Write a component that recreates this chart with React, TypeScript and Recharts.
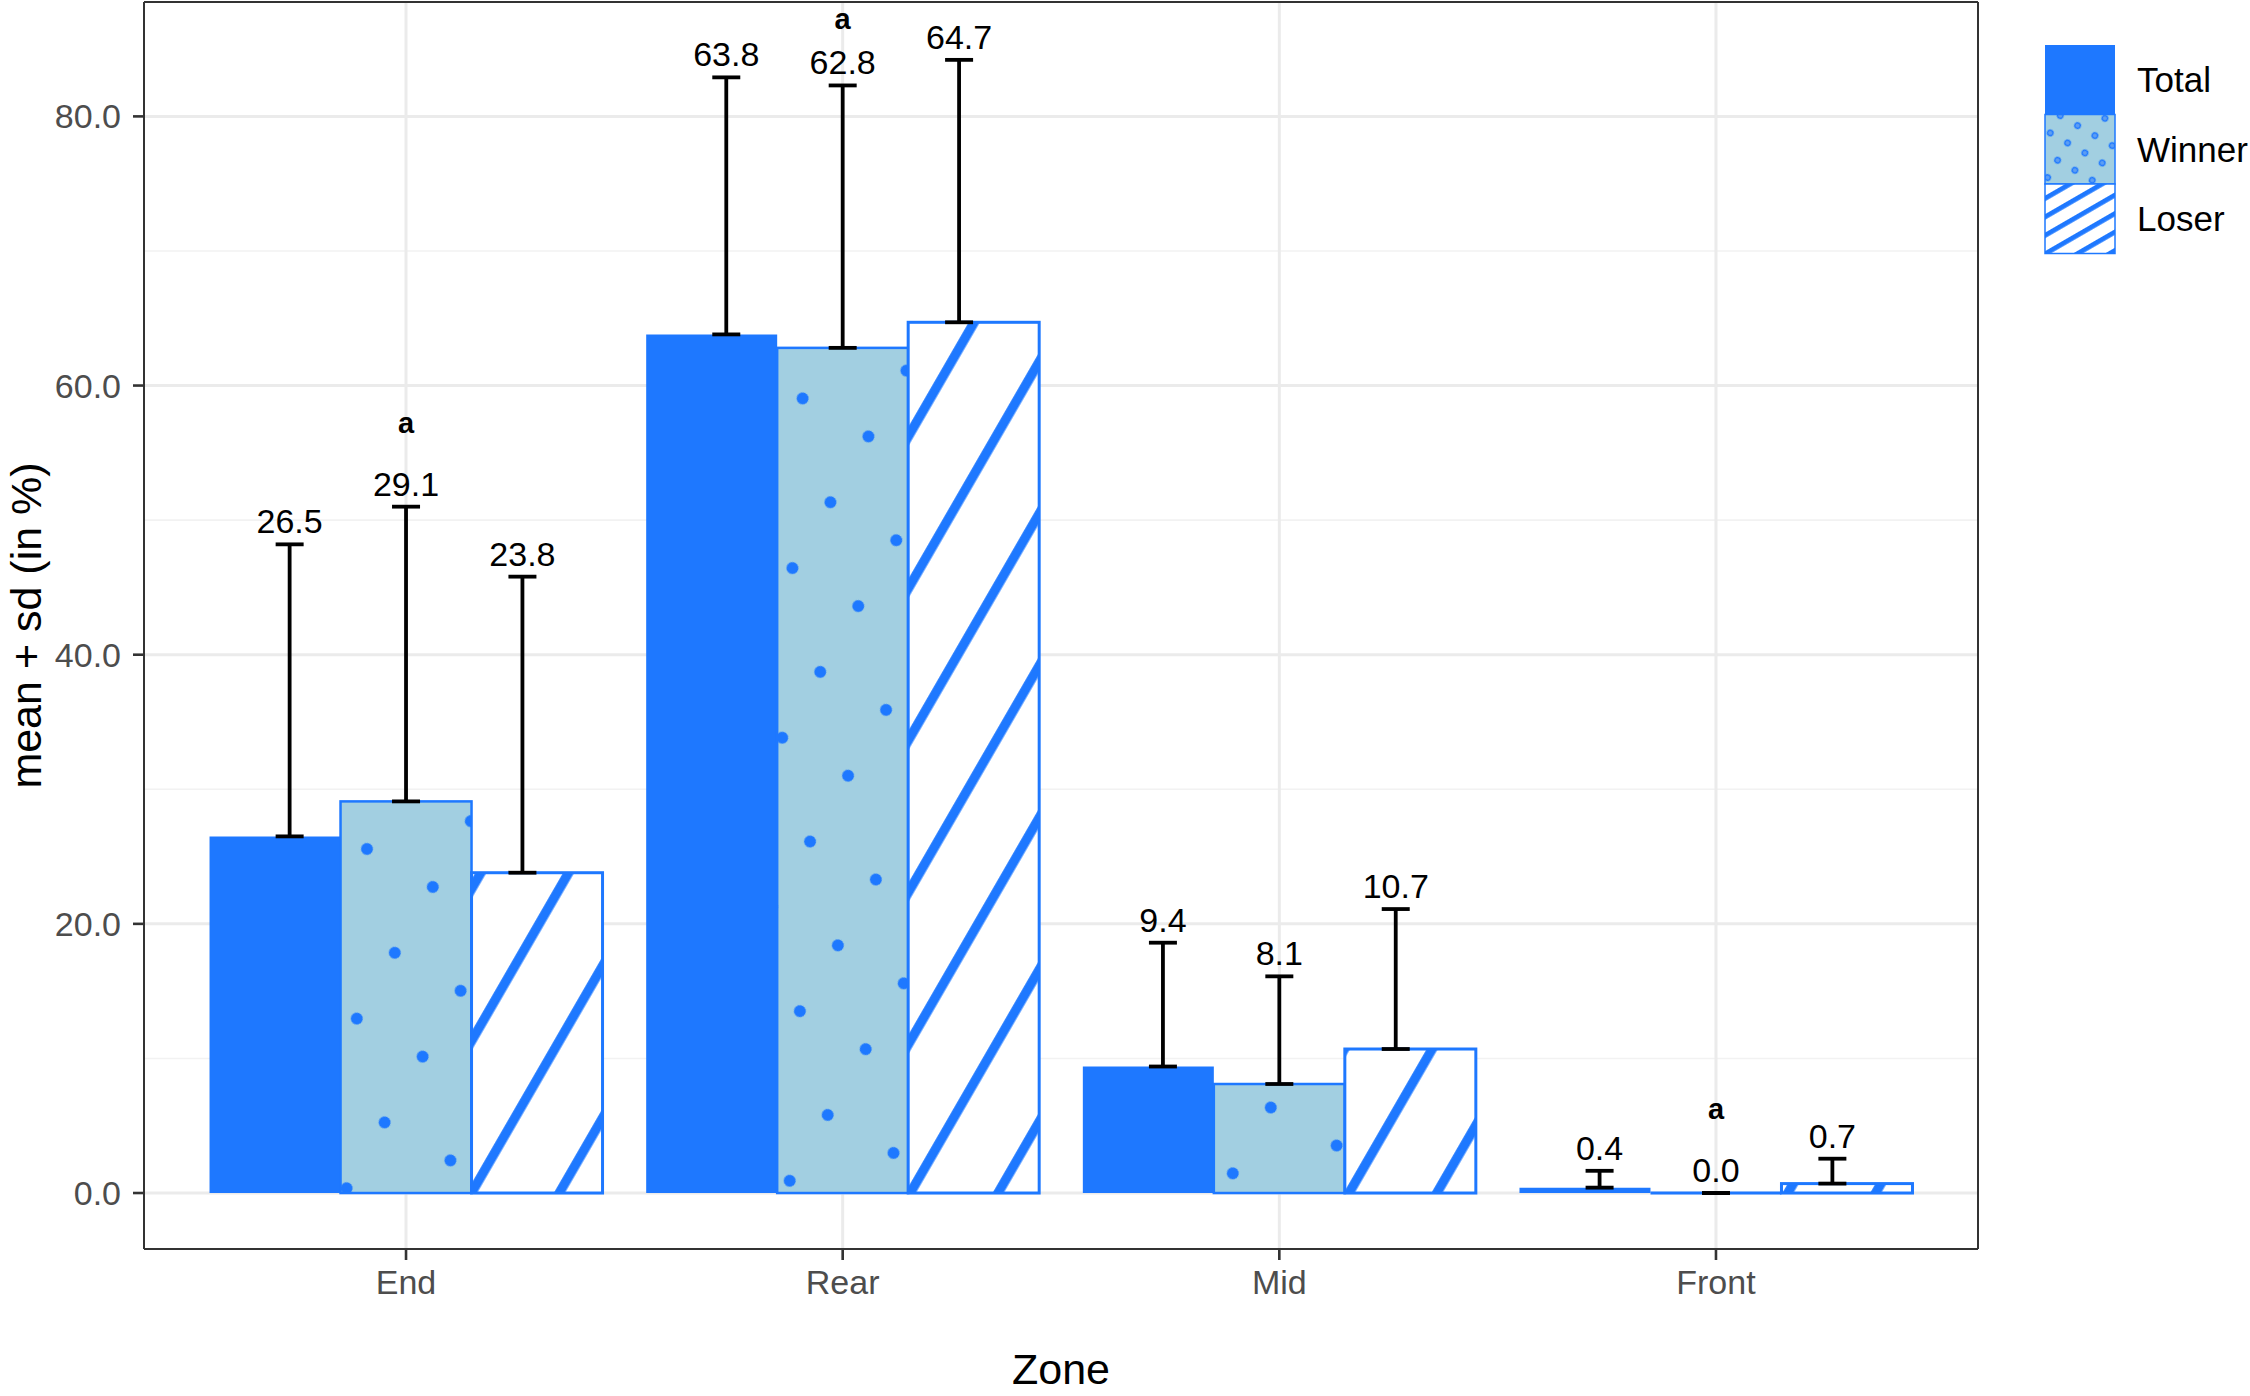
import React from "react";
import { BarChart, Bar, XAxis, YAxis, CartesianGrid, ErrorBar, LabelList, Legend, Label } from "recharts";

const zones = ["End", "Rear", "Mid", "Front"];
const seriesNames = ["Total", "Winner", "Loser"];

const totalMean = [26.5, 63.8, 9.4, 0.4];
const totalSd = [21.7, 19.1, 9.2, 1.25];
const winnerMean = [29.1, 62.8, 8.1, 0.0];
const winnerSd = [21.9, 19.5, 8.0, 0.0];
const loserMean = [23.8, 64.7, 10.7, 0.7];
const loserSd = [22.0, 19.5, 10.4, 1.85];
const winnerLetters = ["a", "a", "", "a"];

const yTicks = [0, 20, 40, 60, 80];
const yMinor = [10, 30, 50, 70];

const BLUE = "#1E78FF";
const LIGHT = "#A2CFE1";
const FONT = "'Liberation Sans', Arial, Helvetica, sans-serif";

// error bars and labels are dodged a bit narrower (0.8) than the bars (0.9)
const DODGE = 14.6;

const data = zones.map((zone, i) => ({
  zone,
  Total: totalMean[i],
  totalErr: [0, totalSd[i]],
  Winner: winnerMean[i],
  winnerErr: [0, winnerSd[i]],
  Loser: loserMean[i],
  loserErr: [0, loserSd[i]],
}));

// top of the error bar, in pixels, worked out from the bar's own geometry
const errTop = (props: any, sds: number[]) => {
  const vb = props.viewBox || props;
  const v = Number(props.value);
  const perUnit = v > 0 ? vb.height / v : 0;
  return vb.y - sds[props.index] * perUnit;
};

const meanLabel = (sds: number[], shift: number) => (props: any) => {
  const vb = props.viewBox || props;
  const top = errTop(props, sds);
  return (
    <text x={vb.x + vb.width / 2 + shift} y={top - 11} textAnchor="middle" fontSize={34} fontFamily={FONT} fill="#000">
      {Number(props.value).toFixed(1)}
    </text>
  );
};

const letterLabel = (props: any) => {
  const s = winnerLetters[props.index];
  if (!s) return null;
  const vb = props.viewBox || props;
  const cy = Math.max(errTop(props, winnerSd) - 82, 21);
  return (
    <text x={vb.x + vb.width / 2} y={cy + 8} textAnchor="middle" fontSize={29} fontWeight="bold" fontFamily={FONT} fill="#000">
      {s}
    </text>
  );
};

const WinnerBar = (p: any) => {
  const { x, y, width } = p;
  const height = p.height || 0;
  if (height < 0.5) {
    return <line x1={x} x2={x + width} y1={y + height} y2={y + height} stroke={BLUE} strokeWidth={3} />;
  }
  return (
    <g>
      <rect x={x} y={y} width={width} height={height} fill={LIGHT} />
      <rect x={x} y={y} width={width} height={height} fill="url(#winnerDots)" />
      <rect x={x} y={y} width={width} height={height} fill="none" stroke={BLUE} strokeWidth={2.5} />
    </g>
  );
};

const LoserBar = (p: any) => {
  const { x, y, width } = p;
  const height = p.height || 0;
  return (
    <g>
      <rect x={x} y={y} width={width} height={height} fill="#fff" />
      <rect x={x} y={y} width={width} height={height} fill="url(#loserStripes)" />
      <rect x={x} y={y} width={width} height={height} fill="none" stroke={BLUE} strokeWidth={3} />
    </g>
  );
};

const applyScale = (s: any, v: any) => {
  if (typeof s === "function") return s(v);
  if (s && typeof s.map === "function") return s.map(v);
  if (s && typeof s.apply === "function") return s.apply(v);
  return undefined;
};

const centerLines = ({ xAxis }: any) => {
  try {
    const s = xAxis && xAxis.scale;
    if (!s) return [];
    const bw = typeof s.bandwidth === "function" ? s.bandwidth() : 0;
    const pts = zones.map((z) => applyScale(s, z)).filter((v) => typeof v === "number");
    return pts.map((v) => v + bw / 2);
  } catch (e) {
    return [];
  }
};
const edgeRows = ({ offset }: any) => [offset.top, offset.top + offset.height];
const edgeCols = ({ offset }: any) => [offset.left, offset.left + offset.width];

const LegendKeys = () => {
  const keyH = 69.5;
  return (
    <svg width={250} height={270} style={{ display: "block" }}>
      <defs>
        <pattern id="legendDots" patternUnits="userSpaceOnUse" width={20} height={20} patternTransform="rotate(30)">
          <circle cx={10} cy={10} r={2.8} fill="#5E9EF2" stroke={BLUE} strokeWidth={1.4} />
        </pattern>
        <pattern id="legendStripes" patternUnits="userSpaceOnUse" width={16} height={16} patternTransform="rotate(60)">
          <rect x={0} y={0} width={4.8} height={16} fill={BLUE} />
        </pattern>
      </defs>
      {seriesNames.map((name, i) => {
        const top = 45 + i * keyH;
        return (
          <g key={name}>
            {i === 0 && <rect x={45} y={top} width={70} height={keyH} fill={BLUE} />}
            {i === 1 && (
              <>
                <rect x={45} y={top} width={70} height={keyH} fill={LIGHT} />
                <rect x={45} y={top} width={70} height={keyH} fill="url(#legendDots)" />
                <rect x={45} y={top} width={70} height={keyH} fill="none" stroke={BLUE} strokeWidth={1.5} />
              </>
            )}
            {i === 2 && (
              <>
                <rect x={45} y={top} width={70} height={keyH} fill="#fff" />
                <rect x={45} y={top} width={70} height={keyH} fill="url(#legendStripes)" />
                <rect x={45} y={top} width={70} height={keyH} fill="none" stroke={BLUE} strokeWidth={1.5} />
              </>
            )}
            <text x={137} y={top + keyH / 2 + 12.5} fontSize={35} fontFamily={FONT} fill="#000">
              {name}
            </text>
          </g>
        );
      })}
    </svg>
  );
};

export default function App() {
  return (
    <div style={{ position: "absolute", left: 0, top: 0, width: 2250, height: 1396, background: "#fff" }}>
      <BarChart
        width={2250}
        height={1396}
        data={data}
        margin={{ top: 2, right: 272, bottom: 0, left: 0 }}
        barCategoryGap="5%"
        barGap={0}
      >
        <defs>
          <pattern id="winnerDots" patternUnits="userSpaceOnUse" width={76} height={76} patternTransform="rotate(30)">
            <circle cx={58.3} cy={19.7} r={6} fill={BLUE} />
          </pattern>
          <pattern id="loserStripes" patternUnits="userSpaceOnUse" width={76} height={76} patternTransform="rotate(30)">
            <rect x={12.1} y={0} width={9.5} height={76} fill={BLUE} />
          </pattern>
        </defs>
        <CartesianGrid horizontalValues={yMinor} vertical={false} stroke="#F2F2F2" strokeWidth={1.6} />
        <CartesianGrid horizontalValues={yTicks} verticalCoordinatesGenerator={centerLines} stroke="#EBEBEB" strokeWidth={3} />
        <CartesianGrid horizontalCoordinatesGenerator={edgeRows} verticalCoordinatesGenerator={edgeCols} stroke="#333333" strokeWidth={2} />
        <XAxis
          dataKey="zone"
          padding={{ left: 43.7, right: 43.7 }}
          height={147}
          interval={0}
          axisLine={false}
          tickSize={11}
          tickMargin={10}
          tickLine={{ stroke: "#333333", strokeWidth: 2.6 }}
          tick={{ fill: "#4D4D4D", fontSize: 34, fontFamily: FONT }}
        >
          <Label value="Zone" position="insideBottom" offset={12} fontSize={43} fill="#000" fontFamily={FONT} />
        </XAxis>
        <YAxis
          type="number"
          domain={[-4.16, 88.5]}
          allowDataOverflow
          ticks={yTicks}
          tickFormatter={(v: number) => v.toFixed(1)}
          width={144}
          axisLine={false}
          tickSize={11}
          tickMargin={12}
          tickLine={{ stroke: "#333333", strokeWidth: 2.6 }}
          tick={{ fill: "#4D4D4D", fontSize: 34, fontFamily: FONT }}
        >
          <Label
            value="mean + sd (in %)"
            angle={-90}
            position="insideLeft"
            offset={26}
            fontSize={43}
            fill="#000"
            fontFamily={FONT}
            style={{ textAnchor: "middle" }}
          />
        </YAxis>
        <Legend
          layout="vertical"
          align="center"
          verticalAlign="middle"
          wrapperStyle={{ left: 2000, top: 0, width: 250, height: 270 }}
          content={() => <LegendKeys />}
        />
        <Bar dataKey="Total" fill={BLUE} stroke="none" isAnimationActive={false}>
          <ErrorBar
            dataKey="totalErr"
            direction="y"
            width={14}
            stroke="#000"
            strokeWidth={3.8}
            transform={`translate(${DODGE},0)`}
            isAnimationActive={false}
          />
          <LabelList dataKey="Total" content={meanLabel(totalSd, DODGE)} />
        </Bar>
        <Bar dataKey="Winner" fill={LIGHT} shape={WinnerBar} isAnimationActive={false}>
          <ErrorBar dataKey="winnerErr" direction="y" width={14} stroke="#000" strokeWidth={3.8} isAnimationActive={false} />
          <LabelList dataKey="Winner" content={meanLabel(winnerSd, 0)} />
          <LabelList dataKey="Winner" content={letterLabel} />
        </Bar>
        <Bar dataKey="Loser" fill="#fff" shape={LoserBar} isAnimationActive={false}>
          <ErrorBar
            dataKey="loserErr"
            direction="y"
            width={14}
            stroke="#000"
            strokeWidth={3.8}
            transform={`translate(${-DODGE},0)`}
            isAnimationActive={false}
          />
          <LabelList dataKey="Loser" content={meanLabel(loserSd, -DODGE)} />
        </Bar>
      </BarChart>
    </div>
  );
}
